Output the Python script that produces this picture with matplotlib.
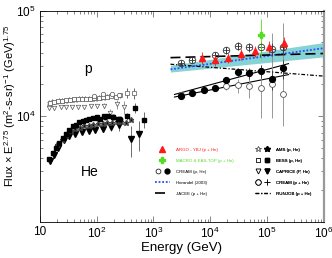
import numpy as np
import matplotlib
matplotlib.use("Agg")
import matplotlib.pyplot as plt
from matplotlib.lines import Line2D
from matplotlib.legend_handler import HandlerTuple
from matplotlib.ticker import NullFormatter, LogLocator

plt.rcParams['font.family'] = ['Liberation Sans', 'DejaVu Sans']
plt.rcParams['mathtext.default'] = 'regular'

# ---- low energy proton data (GeV, flux x E^2.75) ----
p_ams_E = [14.5, 16.5, 19, 21.5, 24.5, 28, 32, 36.5, 42, 48, 55, 63, 72, 83, 95, 110, 128, 150]
p_ams_F = [13300, 13500, 13600, 13800, 13900, 14000, 14100, 14300, 14300, 14400, 14500, 14600, 14500, 14700, 14700, 14800, 15000, 15100]

p_bess_E = [15, 17.5, 20.5, 24, 28.5, 33.5, 39.5, 46.5, 55, 65, 77, 91, 108, 128, 152, 180, 215, 255, 340, 460]
p_bess_F = [13400, 13700, 13800, 14000, 14100, 14200, 14400, 14500, 14600, 14700, 14700, 14800, 14900, 15100, 15300, 15600, 15200, 15800, 16700, 16700]
p_bess_err = [0] * 16 + [500, 800, 1800, 2000]

p_capr_E = [14.5, 18, 23, 29, 37, 47, 60, 78, 100, 135, 175, 230, 300]
p_capr_F = [12000, 12000, 12100, 12100, 12200, 12200, 12300, 12400, 12500, 12600, 10800, 13000, 12200]
p_capr_err = [0] * 9 + [600, 900, 1200, 1600]

p_cream_lo_E = [90, 130, 185, 250]
p_cream_lo_F = [15600, 16400, 16400, 15900]

# ---- low energy helium data ----
he_bess_E = [14.6, 16.7, 19.2, 21.9, 25.1, 28.8, 33, 37.7, 43.2, 49.4, 56.6, 64.8, 74.3, 85, 100, 115, 135, 161, 192, 241, 338, 474, 684]
he_bess_F = [3950, 4480, 4990, 5570, 6220, 6840, 7460, 8040, 8330, 8770, 9090, 9290, 9510, 9640, 9780, 9500, 10000, 10000, 9780, 9500, 10000, 12000, 9290]
he_bess_err = [0] * 17 + [300, 400, 500, 700, 1200, 1600]

he_ams_E = [20, 24, 29, 35, 42, 50, 60, 72, 87, 105, 127, 153, 185, 225, 270, 330, 400]
he_ams_F = [5300, 6000, 6700, 7200, 7600, 7800, 8000, 8100, 8300, 8400, 8500, 8700, 8600, 8800, 8900, 8600, 9300]

he_capr_E = [15, 17.5, 21, 26, 33, 42, 55, 72, 95, 130, 180, 250, 400, 566]
he_capr_F = [3800, 4300, 5000, 5900, 6500, 6800, 7100, 7300, 7400, 7600, 7900, 8200, 6120, 6840]
he_capr_err = [0] * 9 + [500, 700, 900, 2000, 2200]

he_cream_lo_E = [100, 140, 190, 260]
he_cream_lo_F = [9600, 9900, 9800, 9400]

# ---- high energy data ----
cream_he_E = [3076, 4875, 7943, 12250, 19150, 30750, 48750, 78300, 122500, 191500]
cream_he_F = [15500, 16700, 17700, 18500, 21900, 26200, 25500, 26800, 22700, 28400]
cream_he_err = [500, 600, 700, 800, 1500, 2500, 3000, 4000, 5000, 6000]

cream_p_E = [3076, 19150, 30750, 48750, 78300, 122500, 191500]
cream_p_F = [15850, 19170, 19600, 19300, 18600, 20000, 16100]
cream_p_lo = [500, 1500, 3000, 4500, 9000, 10400, 8000]
cream_p_hi = [500, 1500, 3000, 4500, 12000, 42000, 61000]

cream_tot_E = [3076, 4875, 12250, 19150, 30750, 48750, 78300, 122500, 191500]
cream_tot_F = [31800, 34100, 37800, 42200, 46400, 45400, 45700, 43200, 44800]
cream_tot_err = [1500, 1500, 2500, 3500, 4000, 4500, 5000, 6000, 7000]

argo_E = [7330, 12250, 20500, 35200, 62200, 111400, 196800]
argo_F = [35900, 33900, 35900, 38600, 41600, 45400, 49200]
argo_err = [4500, 4000, 4000, 4500, 5000, 6000, 7000]

macro_E = [78300]
macro_F = [58600]
macro_lo = [23900]
macro_hi = [24800]

# ---- fitted lines / models ----
fit_E = [2350, 241000]
fit_up_F = [16070, 31500]
fit_lo_F = [15200, 24800]

model_E = [2000, 1e6]
hor_F = [27800, 44100]
hor_band_lo = [26200, 36500]
hor_band_hi = [30400, 49900]
jacee_F = [35900, 39300]
runjob_F = [31100, 24000]

fig = plt.figure(figsize=(3.32, 2.58), dpi=100)
ax = fig.add_axes([0.1205, 0.1407, 0.854, 0.8178])
ax.set_xscale('log')
ax.set_yscale('log')

ms = 3.2
ekw = dict(elinewidth=0.6, capsize=0, ls='none')

# model band and lines
ax.fill_between(model_E, hor_band_lo, hor_band_hi, color='#86d3d6', lw=0, zorder=1)
h_hor, = ax.plot(model_E, hor_F, ls=(0, (1, 1)), color='#2b4cff', lw=1.3, zorder=2)
h_jacee, = ax.plot(model_E, jacee_F, ls=(0, (6, 3)), color='black', lw=1.2, zorder=2)
h_runjob, = ax.plot(model_E, runjob_F, ls=(0, (3, 1.5, 1, 1.5)), color='black', lw=0.9, zorder=2)
ax.plot(fit_E, fit_up_F, color='black', lw=0.8, zorder=2)
ax.plot(fit_E, fit_lo_F, color='black', lw=0.8, zorder=2)

# low energy protons
ax.errorbar(p_ams_E, p_ams_F, marker='*', ms=ms + 0.5, mfc='white', mec='#777777', mew=0.5, **ekw)
ax.errorbar(p_bess_E, p_bess_F, yerr=p_bess_err, marker='s', ms=ms, mfc='white', mec='#555555',
            mew=0.5, ecolor='#555555', **ekw)
ax.errorbar(p_capr_E, p_capr_F, yerr=p_capr_err, marker='v', ms=ms, mfc='white', mec='#555555',
            mew=0.5, ecolor='#888888', **ekw)
ax.errorbar(p_cream_lo_E, p_cream_lo_F, marker='o', ms=ms, mfc='white', mec='#555555', mew=0.5, **ekw)

# low energy helium
ax.errorbar(he_capr_E, he_capr_F, yerr=he_capr_err, marker='v', ms=ms + 0.5, color='black', ecolor='#555555', **ekw)
ax.errorbar(he_ams_E, he_ams_F, marker='*', ms=ms + 0.5, color='black', mec='#444444', **ekw)
ax.errorbar(he_cream_lo_E, he_cream_lo_F, marker='o', ms=ms, color='black', **ekw)
ax.errorbar(he_bess_E, he_bess_F, yerr=he_bess_err, marker='s', ms=ms, color='black', ecolor='#555555', **ekw)

# high energy
ax.errorbar(cream_p_E, cream_p_F, yerr=[cream_p_lo, cream_p_hi], marker='o', ms=ms + 1, mfc='white',
            mec='#555555', mew=0.6, ecolor='#888888', **ekw)
ax.errorbar(cream_he_E, cream_he_F, yerr=cream_he_err, marker='o', ms=ms + 1, color='black', ecolor='#333333', **ekw)
ax.errorbar(cream_tot_E, cream_tot_F, yerr=cream_tot_err, marker='o', ms=ms + 1.5, mfc='none',
            mec='#333333', mew=0.6, ecolor='#333333', **ekw)
ax.plot(cream_tot_E, cream_tot_F, ls='none', marker='+', ms=ms + 1.5, mec='#333333', mew=0.6)
ax.errorbar(argo_E, argo_F, yerr=argo_err, marker='^', ms=ms + 1.2, color='#ff1a1a', **ekw)
ax.errorbar(macro_E, macro_F, yerr=[macro_lo, macro_hi], marker='P', ms=ms + 1.5, color='#55dd22', **ekw)

ax.text(70, 28300, 'p', fontsize=10, ha='center', va='center')
ax.text(76, 2960, 'He', fontsize=10, ha='center', va='center')

ax.set_xlim(10, 1e6)
ax.set_ylim(1000, 1e5)
ax.set_xticks([10, 1e2, 1e3, 1e4, 1e5, 1e6], ['10', '10$^2$', '10$^3$', '10$^4$', '10$^5$', '10$^6$'])
ax.set_yticks([1e4, 1e5], ['10$^4$', '10$^5$'])
ax.xaxis.set_minor_locator(LogLocator(subs=np.arange(2, 10)))
ax.yaxis.set_minor_locator(LogLocator(subs=np.arange(2, 10)))
ax.xaxis.set_minor_formatter(NullFormatter())
ax.yaxis.set_minor_formatter(NullFormatter())
ax.tick_params(which='both', direction='in', top=True, right=True, labelsize=8.5, width=0.5, color='#555555')
ax.tick_params(which='major', length=4, pad=3)
ax.tick_params(which='minor', length=2)
for s in ['left', 'bottom', 'top']:
    ax.spines[s].set_linewidth(0.6)
ax.spines['right'].set_linewidth(1.6)
ax.spines['right'].set_color('#999999')

ax.set_xlabel('Energy (GeV)', fontsize=9.5, labelpad=1)
ax.set_ylabel('Flux × E$^{2.75}$ (m$^2$-s-sr)$^{-1}$ (GeV)$^{1.75}$', fontsize=8.0)
ax.yaxis.set_label_coords(-0.078, 0.55)

# legends
lfont = dict(family=['Liberation Sans Narrow', 'Liberation Sans'], size=3.2)
o_open = Line2D([], [], ls='none', marker='o', ms=3.5, mfc='white', mec='black', mew=0.5)
o_full = Line2D([], [], ls='none', marker='o', ms=3.5, color='black')
h_argo = Line2D([], [], ls='none', marker='^', ms=4.5, color='#ff1a1a')
h_macro = Line2D([], [], ls='none', marker='P', ms=4.5, color='#55dd22')
leg1 = ax.legend([h_argo, h_macro, (o_open, o_full), h_hor, h_jacee],
                 ['ARGO - YBJ (p + He)', 'MACRO & EAS-TOP (p + He)', 'CREAM (p, He)', 'Horandel (2003)', 'JACEE (p + He)'],
                 handler_map={tuple: HandlerTuple(ndivide=None, pad=0.6)},
                 labelcolor=['#ff1a1a', '#55dd22', 'black', 'black', 'black'],
                 loc='upper left', bbox_to_anchor=(0.405, 0.35), frameon=False, prop=lfont,
                 handlelength=3.3, handletextpad=1.4, labelspacing=1.55, borderpad=0, borderaxespad=0)
ax.add_artist(leg1)

s_open = Line2D([], [], ls='none', marker='*', ms=4, mfc='white', mec='#555555', mew=0.5)
s_full = Line2D([], [], ls='none', marker='*', ms=4, color='black')
q_open = Line2D([], [], ls='none', marker='s', ms=3.2, mfc='white', mec='black', mew=0.5)
q_full = Line2D([], [], ls='none', marker='s', ms=3.2, color='black')
v_open = Line2D([], [], ls='none', marker='v', ms=3.5, mfc='white', mec='black', mew=0.5)
v_full = Line2D([], [], ls='none', marker='v', ms=3.5, color='black')
c_ring = Line2D([], [], ls='none', marker='o', ms=4, mfc='none', mec='black', mew=0.5)
c_plus = Line2D([], [], ls='none', marker='+', ms=4, mec='black', mew=0.5)
leg2 = ax.legend([(s_open, s_full), (q_open, q_full), (v_open, v_full), (c_ring, c_plus), h_runjob],
                 ['AMS (p, He)', 'BESS (p, He)', 'CAPRICE (P, He)', 'CREAM (p + He)', 'RUNJOB (p + He)'],
                 handler_map={tuple: HandlerTuple(ndivide=None, pad=0.6)},
                 loc='upper left', bbox_to_anchor=(0.76, 0.35), frameon=False, prop=lfont,
                 handlelength=3.3, handletextpad=1.4, labelspacing=1.55, borderpad=0, borderaxespad=0)
ax.add_artist(leg2)

fig.savefig('out.png', dpi=100)
